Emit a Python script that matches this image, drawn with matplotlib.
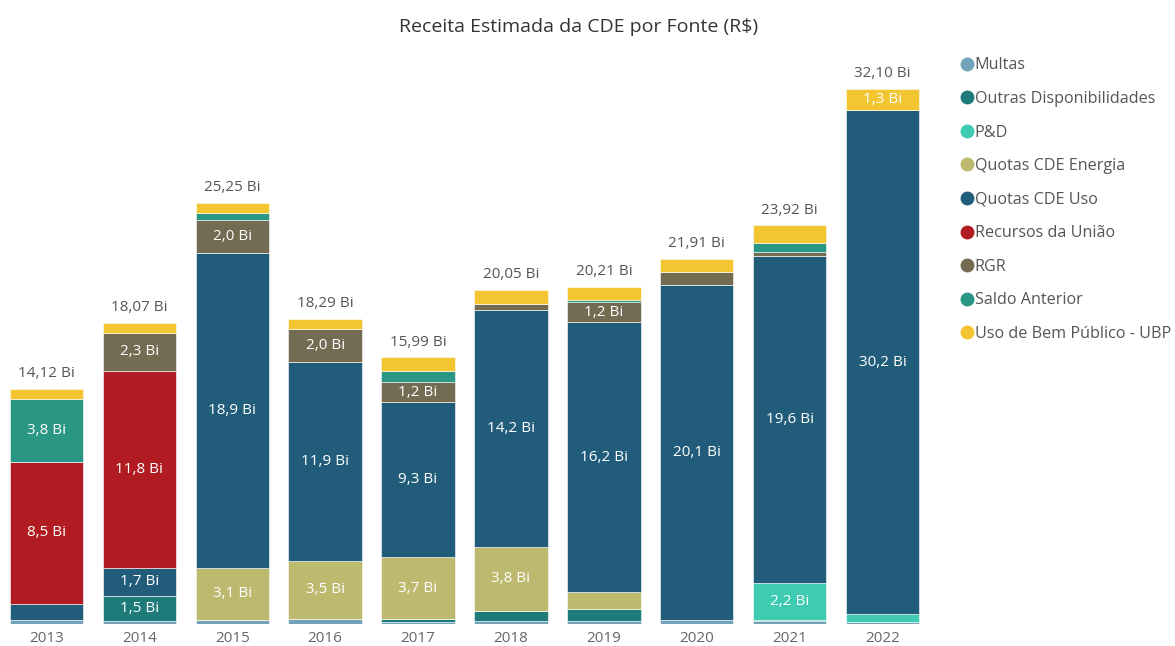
import numpy as np
import matplotlib.pyplot as plt
from matplotlib.lines import Line2D

plt.rcParams["font.family"] = ["Open Sans", "DejaVu Sans"]

# ---------------------------------------------------------------------------
# data (R$ bilhões)
# ---------------------------------------------------------------------------

YEARS = ["2013", "2014", "2015", "2016", "2017", "2018", "2019", "2020", "2021", "2022"]

SOURCES = [
    "Multas",
    "Outras Disponibilidades",
    "P&D",
    "Quotas CDE Energia",
    "Quotas CDE Uso",
    "Recursos da União",
    "RGR",
    "Saldo Anterior",
    "Uso de Bem Público - UBP",
]

multas = [0.22, 0.17, 0.25, 0.29, 0.10, 0.20, 0.20, 0.21, 0.15, 0.10]
outras = [0.0, 1.5, 0.0, 0.0, 0.2, 0.6, 0.7, 0.0, 0.1, 0.0]
p_d = [0.0, 0.0, 0.0, 0.0, 0.0, 0.0, 0.0, 0.0, 2.2, 0.5]
quotas_energia = [0.0, 0.0, 3.1, 3.5, 3.7, 3.8, 1.0, 0.0, 0.0, 0.0]
quotas_uso = [1.0, 1.7, 18.9, 11.9, 9.3, 14.2, 16.2, 20.1, 19.6, 30.2]
recursos_uniao = [8.5, 11.8, 0.0, 0.0, 0.0, 0.0, 0.0, 0.0, 0.0, 0.0]
rgr = [0.0, 2.3, 2.0, 2.0, 1.2, 0.4, 1.2, 0.8, 0.27, 0.0]
saldo_anterior = [3.8, 0.0, 0.4, 0.0, 0.7, 0.0, 0.11, 0.0, 0.5, 0.0]
ubp = [0.6, 0.6, 0.6, 0.6, 0.79, 0.85, 0.8, 0.8, 1.1, 1.3]

SERIES = [multas, outras, p_d, quotas_energia, quotas_uso,
          recursos_uniao, rgr, saldo_anterior, ubp]

COLORS = [
    "#74a2b8",  # Multas
    "#1f7a7a",  # Outras Disponibilidades
    "#3ecbb1",  # P&D
    "#bdb96f",  # Quotas CDE Energia
    "#215d7a",  # Quotas CDE Uso
    "#b01c22",  # Recursos da União
    "#736b52",  # RGR
    "#2a9784",  # Saldo Anterior
    "#f2c531",  # UBP
]

LABEL_MIN = 1.2  # segments smaller than this get no data label


def fmt(v, nd):
    return f"{v:.{nd}f}".replace(".", ",") + " Bi"


# ---------------------------------------------------------------------------
# plot
# ---------------------------------------------------------------------------

fig = plt.figure(figsize=(11.75, 6.46), dpi=100)
ax = fig.add_axes([0.0, 22 / 646, 929 / 1175, 567 / 646])

x = np.arange(len(YEARS))
bottom = np.zeros(len(YEARS))

for name, vals, color in zip(SOURCES, SERIES, COLORS):
    vals = np.array(vals)
    ax.bar(x, vals, bottom=bottom, width=0.79, color=color,
           edgecolor="white", linewidth=0.4, label=name)
    for xi, b, v in zip(x, bottom, vals):
        if v >= LABEL_MIN:
            ax.text(xi, b + v / 2, fmt(v, 1), ha="center", va="center",
                    color="white", fontsize=11)
    bottom += vals

for xi, total in zip(x, bottom):
    ax.text(xi, total + 0.45, fmt(total, 2), ha="center", va="bottom",
            color="#555555", fontsize=11)

ax.set_xlim(-0.5, len(YEARS) - 0.5)
ax.set_ylim(0, 34)
ax.set_xticks(x)
ax.set_xticklabels(YEARS, color="#666666", fontsize=11)
ax.tick_params(axis="x", length=0, pad=5)
ax.set_yticks([])
for s in ax.spines.values():
    s.set_visible(False)

fig.text(579 / 1175, 1 - 27 / 646, "Receita Estimada da CDE por Fonte (R$)",
         ha="center", va="center", fontsize=14, color="#333333")

handles = [Line2D([], [], marker="o", linestyle="", markersize=9,
                  markerfacecolor=c, markeredgecolor=c) for c in COLORS]
leg = fig.legend(handles, SOURCES, loc="upper left",
                 bbox_to_anchor=(953 / 1175, 1 - 51 / 646),
                 frameon=False, fontsize=11.6, handletextpad=0.05,
                 handlelength=0.9, labelspacing=1.09, borderaxespad=0)
for t in leg.get_texts():
    t.set_color("#555555")

fig.savefig("out.png", dpi=100)
